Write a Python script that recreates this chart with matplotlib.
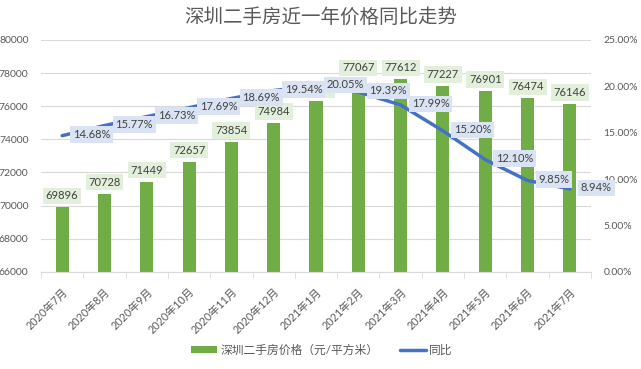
import matplotlib
matplotlib.use("Agg")
import matplotlib.pyplot as plt
from matplotlib.ticker import FuncFormatter, FixedLocator

plt.rcParams['font.family'] = ['Lato', 'Noto Sans CJK SC', 'DejaVu Sans']

months = ['2020年7月', '2020年8月', '2020年9月', '2020年10月', '2020年11月', '2020年12月',
          '2021年1月', '2021年2月', '2021年3月', '2021年4月', '2021年5月', '2021年6月', '2021年7月']
price = [69896, 70728, 71449, 72657, 73854, 74984, 76290, 77067, 77612, 77227, 76901, 76474, 76146]
yoy = [14.68, 15.77, 16.73, 17.69, 18.69, 19.54, 20.05, 19.39, 17.99, 15.20, 12.10, 9.85, 8.94]
# extra lift (pixels) for bar labels that were moved up in the original
lift = [0, 0, 0, 0, 0, 0, 0, 9, 0, 0, 0, 0, 0]

GREEN = '#70ad47'
BLUE = '#4472c4'
GRID = '#d9d9d9'
TXT = '#595959'

fig = plt.figure(figsize=(6.41, 3.69), dpi=100)
ax = fig.add_axes([0.064, 0.263, 0.858, 0.629])
ax2 = ax.twinx()

x = list(range(len(months)))
bars = ax.bar(x, price, width=0.31, color=GREEN, zorder=2)
ax.set_ylim(66000, 80000)
ax.set_yticks(range(66000, 80001, 2000))
ax.set_xlim(-0.5, len(months) - 0.5)
ax.set_xticks(x)
ax.set_xticklabels(months, rotation=45, ha='right', va='top', rotation_mode='anchor',
                   fontsize=7.8, color=TXT)
ax.xaxis.set_minor_locator(FixedLocator([i - 0.5 for i in range(len(months) + 1)]))
ax.tick_params(axis='x', which='major', length=0, pad=10)
ax.tick_params(axis='x', which='minor', length=4, color=GRID)
ax.tick_params(axis='y', length=0, labelsize=7.5, labelcolor=TXT, pad=9)
ax.grid(axis='y', color=GRID, linewidth=0.8)
ax.set_axisbelow(True)
for s in ['top', 'left', 'right']:
    ax.spines[s].set_visible(False)
ax.spines['bottom'].set_color(GRID)

# bar value labels
for xi, v, up in zip(x, price, lift):
    ax.annotate(str(v), (xi, v), xytext=(0, 6 + up), textcoords='offset pixels',
                ha='center', va='bottom', fontsize=8, color='#404040', zorder=4,
                bbox=dict(boxstyle='square,pad=0.25', fc='#e2efda', ec='none'))

line, = ax2.plot(x, [v / 100 for v in yoy], color=BLUE, linewidth=2.5, zorder=3,
                 solid_capstyle='round')
ax2.set_ylim(0, 0.25)
ax2.set_yticks([0, 0.05, 0.10, 0.15, 0.20, 0.25])
ax2.yaxis.set_major_formatter(FuncFormatter(lambda v, p: '%.2f%%' % (v * 100)))
ax2.tick_params(axis='y', length=0, labelsize=7.5, labelcolor=TXT, pad=9)
for s in ['top', 'left', 'right', 'bottom']:
    ax2.spines[s].set_visible(False)

# year-on-year labels, right of each point
for xi, v in zip(x, yoy):
    ax2.annotate('%.2f%%' % v, (xi, v / 100), xytext=(11, 1), textcoords='offset pixels',
                 ha='left', va='center', fontsize=8, color='#404040', zorder=6,
                 bbox=dict(boxstyle='square,pad=0.25', fc='#dae3f3', ec='none'))

fig.text(0.5, 0.952, '深圳二手房近一年价格同比走势', ha='center', va='center',
         fontsize=14, color=TXT, fontweight='light')

fig.legend([bars, line], ['深圳二手房价格（元/平方米）', '同比'], loc='center',
           bbox_to_anchor=(0.502, 0.052), ncol=2, frameon=False, fontsize=8.5,
           labelcolor=TXT, handlelength=2.2, handleheight=0.5, columnspacing=1.8,
           handletextpad=0.3)

fig.savefig('out.png', dpi=100)
